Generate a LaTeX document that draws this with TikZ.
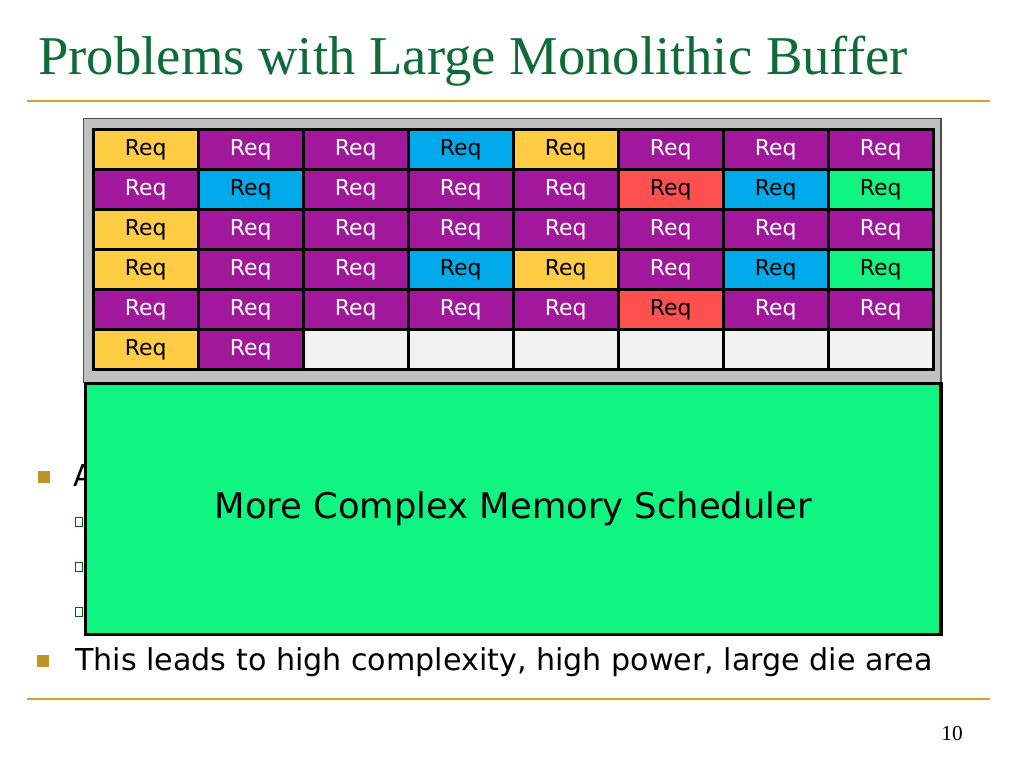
\documentclass[tikz,border=0pt]{standalone}
\usepackage{fontspec}
\setmainfont{DejaVu Sans}
\newfontfamily\titlefont{Liberation Serif}
\definecolor{titlegreen}{HTML}{0F6B37}
\definecolor{slidegold}{HTML}{D2A52A}
\definecolor{reqyellow}{HTML}{FFCC44}
\definecolor{reqpurple}{HTML}{A1189D}
\definecolor{reqblue}{HTML}{00AAEA}
\definecolor{reqred}{HTML}{FF5050}
\definecolor{reqgreen}{HTML}{10F582}
\definecolor{reqempty}{HTML}{F2F2F2}
\definecolor{framegray}{HTML}{C0C0C0}

\begin{document}
\begin{tikzpicture}[
  x=0.75pt, y=-0.75pt,
  cell/.style={draw=black, line width=1.9pt, anchor=north west, inner sep=0pt,
    minimum width=78.75pt, minimum height=30pt, font=\fontsize{16.5}{19}\selectfont},
  cellY/.style={cell, fill=reqyellow},
  cellP/.style={cell, fill=reqpurple, text=white},
  cellB/.style={cell, fill=reqblue},
  cellR/.style={cell, fill=reqred},
  cellG/.style={cell, fill=reqgreen},
  cellE/.style={cell, fill=reqempty},
  goldline/.style={draw=slidegold, line width=1.5pt},
  gbullet/.style={fill=slidegold!90!black, minimum size=9pt, inner sep=0pt},
  subbullet/.style={draw=black!60!green, fill=white, line width=0.6pt,
    minimum width=5.5pt, minimum height=7pt, inner sep=0pt},
  btext/.style={anchor=base west, font=\fontsize{22.6}{27}\selectfont},
  sched/.style={draw=black, line width=2.4pt, fill=reqgreen, anchor=north west,
    minimum width=641.5pt, minimum height=188pt, font=\fontsize{26.5}{31}\selectfont},
]
\useasboundingbox[fill=white] (0,0) rectangle (1024,768);

% title and rules
\node[anchor=base west, text=titlegreen, inner sep=0pt,
  font=\titlefont\fontsize{41}{48}\selectfont] (title) at (38,74) {Problems with Large Monolithic Buffer};
\draw[goldline] (27,101) -- (990,101);
\draw[goldline] (27,699) -- (990,699);
\node[font=\titlefont\fontsize{16}{19}\selectfont] (page) at (952,733) {10};

% bullets behind the scheduler box
\node[gbullet] (b1) at (44,477) {};
\node[btext, inner sep=0pt] (t1) at (73,486) {A};
\foreach \y [count=\i] in {522,567,612}
  \node[subbullet] (s\i) at (79,\y) {};

% request buffer
\node[draw=black!70, line width=1pt, fill=framegray, minimum width=643pt,
  minimum height=198pt, anchor=north west] (buffer) at (83,118) {};
\foreach \row [count=\r from 0] in {
    {Y,P,P,B,Y,P,P,P},
    {P,B,P,P,P,R,B,G},
    {Y,P,P,P,P,P,P,P},
    {Y,P,P,B,Y,P,B,G},
    {P,P,P,P,P,R,P,P},
    {Y,P,E,E,E,E,E,E}}
  \foreach \k [count=\c from 0] in \row
    \node[cell\k] (c\r\c) at ({92+105*\c},{128+40*\r}) {\if\k E\else Req\fi};

% scheduler
\node[sched] (sched) at (84,382) {More Complex Memory Scheduler};

\node[gbullet] (b2) at (43,661) {};
\node[btext, inner sep=0pt] (t2) at (75,670) {This leads to high complexity, high power, large die area};
\end{tikzpicture}
\end{document}
